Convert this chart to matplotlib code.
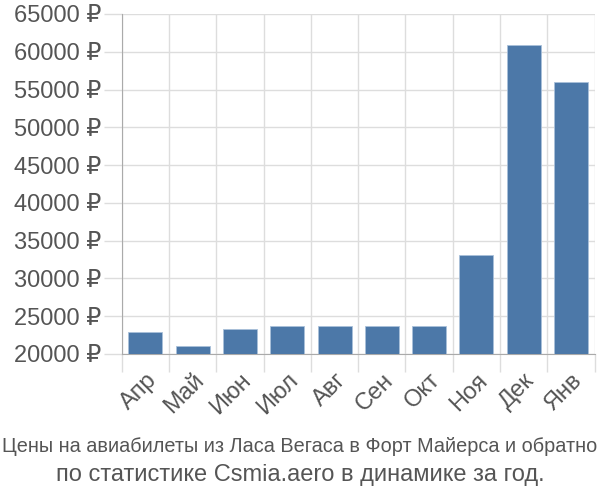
import numpy as np
import matplotlib
matplotlib.use('Agg')
import matplotlib.pyplot as plt

plt.rcParams['font.family'] = ['Liberation Sans', 'DejaVu Sans']

months = ['Апр', 'Май', 'Июн', 'Июл', 'Авг', 'Сен', 'Окт', 'Ноя', 'Дек', 'Янв']
prices = [22900, 21050, 23300, 23700, 23700, 23700, 23700, 33150, 60900, 56000]
yticks = [20000, 25000, 30000, 35000, 40000, 45000, 50000, 55000, 60000, 65000]
title1 = 'Цены на авиабилеты из Ласа Вегаса в Форт Майерса и обратно'
title2 = 'по статистике Csmia.aero в динамике за год.'

fig = plt.figure(figsize=(6, 5), dpi=100)
ax = fig.add_axes([0.203, 0.292, 0.788, 0.68])

x = np.arange(len(months))
ax.bar(x, prices, width=0.72, color='#4c78a8', edgecolor='#a9c0da', linewidth=0.6,
       zorder=3)

ax.set_xlim(-0.5, len(months) - 0.5)
ax.set_ylim(20000, 65000)

ax.set_yticks(yticks)
ax.set_yticklabels([f'{v} ₽' for v in yticks])
ax.set_xticks(x)
ax.set_xticklabels(months, rotation=45, ha='right', va='top', rotation_mode='anchor')
ax.set_xticks(np.arange(len(months) + 1) - 0.5, minor=True)

ax.tick_params(axis='x', which='major', length=0, pad=11, labelsize=17, labelcolor='#555555')
ax.tick_params(axis='x', which='minor', length=13, color='#dddddd', width=1)
ax.tick_params(axis='y', length=13, color='#dddddd', width=1, labelsize=17,
               labelcolor='#555555', pad=2)

ax.grid(axis='y', color='#dddddd', linewidth=1, zorder=0)
ax.grid(axis='x', which='minor', color='#dddddd', linewidth=1, zorder=0)

for s in ['top', 'right']:
    ax.spines[s].set_visible(False)
ax.spines['left'].set_color('#aaaaaa')
ax.spines['bottom'].set_color('#aaaaaa')

# first line is squeezed to full width in the original
fig.text(0.5, 1 - 447 / 500, title1, ha='center', va='center', fontsize=14.3,
         color='#555555')
fig.text(0.5, 1 - 475 / 500, title2, ha='center', va='center', fontsize=17,
         color='#555555')

fig.savefig('out.png', dpi=100)
